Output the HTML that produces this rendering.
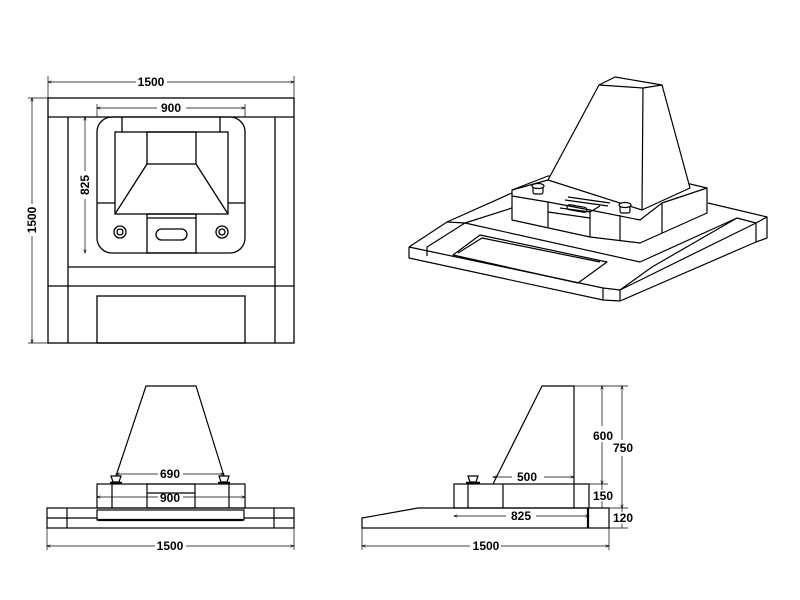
<!DOCTYPE html>
<html><head><meta charset="utf-8"><style>
body{margin:0;background:#fff}
svg{display:block}
text{font-family:"Liberation Sans",sans-serif;font-weight:bold;font-size:12px;fill:#000}
</style></head><body>
<svg width="800" height="600" viewBox="0 0 800 600" xmlns="http://www.w3.org/2000/svg">
<defs><marker id="a" viewBox="0 0 8 8" refX="7" refY="4" markerWidth="6" markerHeight="6" orient="auto-start-reverse"><path d="M0,1.5 L8,4 L0,6.5" fill="none" stroke="#000" stroke-width="1"/></marker></defs>
<g fill="none" stroke="#000" stroke-width="1.3">
<rect x="48" y="98" width="246" height="245"/>
<line x1="48" y1="117" x2="294" y2="117"/>
<line x1="68" y1="117" x2="68" y2="343"/><line x1="275" y1="117" x2="275" y2="343"/>
<line x1="68" y1="267" x2="275" y2="267"/><line x1="48" y1="286" x2="294" y2="286"/>
<rect x="97" y="296" width="148" height="47"/>
<rect x="97" y="117" width="148" height="136" rx="15"/>
<line x1="122" y1="117" x2="122" y2="132"/><line x1="220" y1="117" x2="220" y2="132"/>
<rect x="115" y="132" width="113" height="82"/>
<rect x="147" y="132" width="49" height="32"/>
<line x1="147" y1="164" x2="115" y2="214"/><line x1="196" y1="164" x2="228" y2="214"/>
<line x1="97" y1="203" x2="115" y2="203"/><line x1="228" y1="203" x2="245" y2="203"/>
<rect x="147" y="214" width="49" height="39"/><line x1="147" y1="218" x2="196" y2="218"/>
<rect x="156" y="229" width="31" height="11" rx="5.5"/>
<circle cx="120" cy="232" r="6"/><circle cx="120" cy="232" r="3"/>
<circle cx="222" cy="232" r="6"/><circle cx="222" cy="232" r="3"/>
</g>
<g fill="none" stroke="#000" stroke-width="0.7">
<line x1="48" y1="82" x2="136" y2="82" marker-start="url(#a)"/><line x1="167" y1="82" x2="294" y2="82" marker-end="url(#a)"/>
<line x1="48" y1="76" x2="48" y2="98"/><line x1="294" y1="76" x2="294" y2="98"/>
<line x1="32" y1="98" x2="32" y2="204" marker-start="url(#a)"/><line x1="32" y1="236" x2="32" y2="343" marker-end="url(#a)"/>
<line x1="28" y1="98" x2="48" y2="98"/><line x1="28" y1="343" x2="48" y2="343"/>
<line x1="97" y1="108" x2="157" y2="108" marker-start="url(#a)"/><line x1="186" y1="108" x2="245" y2="108" marker-end="url(#a)"/>
<line x1="97" y1="104" x2="97" y2="117"/><line x1="245" y1="104" x2="245" y2="117"/>
<line x1="85" y1="117" x2="85" y2="171" marker-start="url(#a)"/><line x1="85" y1="199" x2="85" y2="253" marker-end="url(#a)"/>
</g>
<text x="151" y="86" text-anchor="middle">1500</text>
<text x="171" y="112" text-anchor="middle">900</text>
<text transform="translate(36,220) rotate(-90)" text-anchor="middle">1500</text>
<text transform="translate(89,185) rotate(-90)" text-anchor="middle">825</text>

<g fill="none" stroke="#000" stroke-width="1.2" stroke-linejoin="round">
<polyline points="409,247 409,258 603,300 620,301 756,242 767,238 767,217"/>
<polyline points="409,247 603,288 620,290 756,223 767,217 708,203"/>
<line x1="603" y1="288" x2="603" y2="300"/><line x1="620" y1="290" x2="620" y2="301"/>
<line x1="756" y1="223" x2="756" y2="242"/>
<line x1="427" y1="247" x2="427" y2="256"/>
<polyline points="409,247 447,222 550,176"/>
<line x1="427" y1="247" x2="465" y2="223"/><line x1="447" y1="222" x2="465" y2="223"/>
<line x1="465" y1="223" x2="640" y2="262"/>
<line x1="620" y1="290" x2="652" y2="267"/>
<line x1="652" y1="267" x2="737" y2="218"/>
<line x1="640" y1="262" x2="737" y2="218"/>
<line x1="737" y1="218" x2="756" y2="223"/>
<line x1="465" y1="223" x2="512" y2="208"/>
<polygon points="453,255 480,235 607,262 578,283"/>
<polyline points="458,253 482,238 600,262"/>
<polygon points="512,196 512,220 590,237 640,243 707,213 707,188 690,184 548,176 512,190" fill="#fff"/>
<polyline points="512,196 548,202 590,210 640,220 662,203 707,188"/>
<line x1="548" y1="202" x2="548" y2="227"/>
<line x1="590" y1="210" x2="590" y2="237"/>
<line x1="620" y1="215" x2="620" y2="241"/>
<line x1="662" y1="203" x2="662" y2="233"/>
<polyline points="548,212 590,218"/><polyline points="560,208 590,212 600,206"/>
<rect x="567" y="206" width="20" height="5" rx="2.5" transform="rotate(10 577 208)"/>
<polyline points="568,197 610,203"/><polyline points="565,200 608,206"/>
<polygon points="599,85 615,77 662,85 690,188 642,210 548,180" fill="#fff"/>
<polyline points="599,85 643,88 662,85"/>
<line x1="643" y1="88" x2="642" y2="210"/>
<line x1="548" y1="180" x2="512" y2="190"/>
<rect x="533" y="186" width="10" height="8" rx="2" fill="#fff"/><ellipse cx="538" cy="186" rx="6" ry="2.5" fill="#fff"/>
<rect x="620" y="205" width="10" height="8" rx="2" fill="#fff"/><ellipse cx="625" cy="205" rx="6" ry="2.5" fill="#fff"/>
</g>

<g fill="none" stroke="#000" stroke-width="1.2">
<rect x="47" y="508" width="247" height="20"/>
<line x1="47" y1="518" x2="97" y2="518"/><line x1="244" y1="518" x2="294" y2="518"/>
<line x1="67" y1="508" x2="67" y2="528"/><line x1="274" y1="508" x2="274" y2="528"/>
<rect x="97" y="484" width="148" height="24"/>
<line x1="112" y1="484" x2="112" y2="508"/><line x1="229" y1="484" x2="229" y2="508"/>
<rect x="147" y="484" width="48" height="24"/><line x1="147" y1="493" x2="195" y2="493"/>
<rect x="97" y="510" width="147" height="10"/><line x1="98" y1="520" x2="243" y2="520" stroke-width="2.2"/>
<polyline points="116,476 146,386 196,386 224,476"/>
<path d="M111,476 h10 l-2,6 h-6z M219,476 h10 l-2,6 h-6z"/>
<line x1="110" y1="483" x2="122" y2="483" stroke-width="2.5"/><line x1="218" y1="483" x2="230" y2="483" stroke-width="2.5"/>
</g>
<g fill="none" stroke="#000" stroke-width="0.7">
<line x1="116" y1="474" x2="158" y2="474" marker-start="url(#a)"/><line x1="183" y1="474" x2="224" y2="474" marker-end="url(#a)"/>
<line x1="97" y1="497" x2="158" y2="497" marker-start="url(#a)"/><line x1="183" y1="497" x2="245" y2="497" marker-end="url(#a)"/>
<line x1="47" y1="546" x2="155" y2="546" marker-start="url(#a)"/><line x1="186" y1="546" x2="294" y2="546" marker-end="url(#a)"/>
<line x1="47" y1="528" x2="47" y2="550"/><line x1="294" y1="528" x2="294" y2="550"/>
</g>
<text x="170" y="478" text-anchor="middle">690</text>
<text x="170" y="502" text-anchor="middle">900</text>
<text x="170" y="550" text-anchor="middle">1500</text>

<g fill="none" stroke="#000" stroke-width="1.2">
<polygon points="362,518 418,508 609,508 609,528 362,528"/>
<line x1="588" y1="508" x2="588" y2="528" stroke-width="2.2"/>
<rect x="454" y="484" width="135" height="24"/>
<line x1="468" y1="484" x2="468" y2="508"/><line x1="503" y1="484" x2="503" y2="508"/><line x1="574" y1="484" x2="574" y2="508"/>
<polyline points="493,484 542,386 574,386 574,484"/>
<path d="M468,476 h10 l-2,6 h-6z"/><line x1="466" y1="483" x2="480" y2="483" stroke-width="2.5"/>
</g>
<g fill="none" stroke="#000" stroke-width="0.7">
<line x1="493" y1="477" x2="512" y2="477" marker-start="url(#a)"/><line x1="544" y1="477" x2="574" y2="477" marker-end="url(#a)"/>
<line x1="574" y1="386" x2="628" y2="386"/><line x1="589" y1="484" x2="608" y2="484"/><line x1="609" y1="508" x2="628" y2="508"/>
<line x1="602" y1="386" x2="602" y2="426" marker-start="url(#a)"/><line x1="602" y1="442" x2="602" y2="484" marker-end="url(#a)"/>
<line x1="602" y1="484" x2="602" y2="508"/>
<line x1="622" y1="386" x2="622" y2="440" marker-start="url(#a)"/><line x1="622" y1="456" x2="622" y2="508" marker-end="url(#a)"/>
<line x1="622" y1="508" x2="622" y2="528"/><line x1="609" y1="528" x2="628" y2="528"/>
<line x1="454" y1="516" x2="506" y2="516" marker-start="url(#a)"/><line x1="536" y1="516" x2="589" y2="516" marker-end="url(#a)"/>
<line x1="362" y1="546" x2="470" y2="546" marker-start="url(#a)"/><line x1="501" y1="546" x2="609" y2="546" marker-end="url(#a)"/>
<line x1="362" y1="528" x2="362" y2="550"/><line x1="609" y1="528" x2="609" y2="550"/>
</g>
<text x="527" y="481" text-anchor="middle">500</text>
<text x="603" y="440" text-anchor="middle" style="paint-order:stroke;stroke:#fff;stroke-width:3px">600</text>
<text x="623" y="452" text-anchor="middle" style="paint-order:stroke;stroke:#fff;stroke-width:3px">750</text>
<text x="603" y="500" text-anchor="middle" style="paint-order:stroke;stroke:#fff;stroke-width:3px">150</text>
<text x="623" y="522" text-anchor="middle" style="paint-order:stroke;stroke:#fff;stroke-width:3px">120</text>
<text x="521" y="520" text-anchor="middle">825</text>
<text x="486" y="550" text-anchor="middle">1500</text>
</svg>
</body></html>
